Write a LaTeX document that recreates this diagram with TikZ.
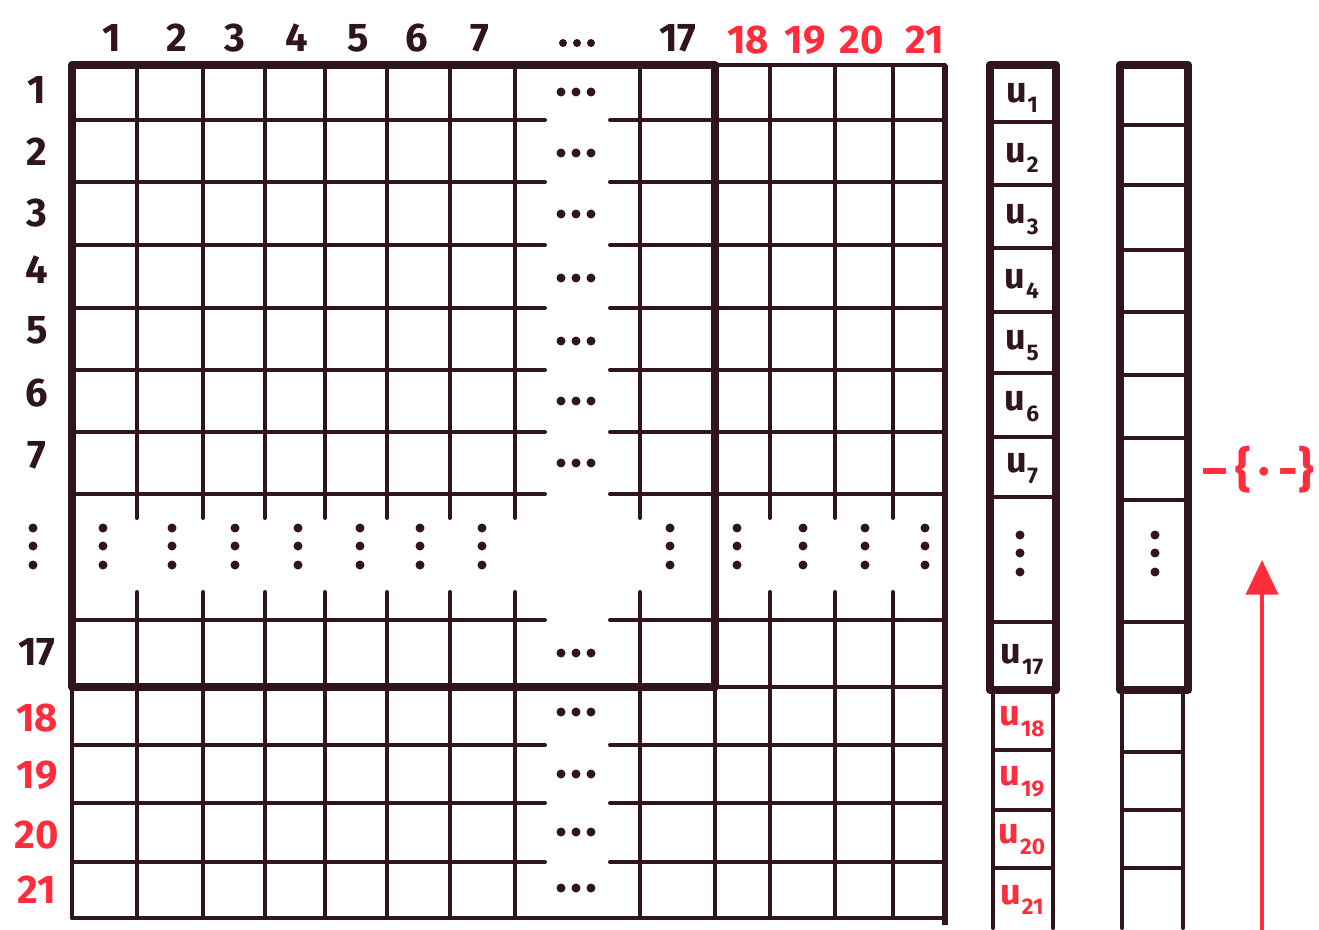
\documentclass[tikz,border=0pt]{standalone}
\usepackage{fontspec}
\setmainfont{Fira Sans}
\usetikzlibrary{arrows.meta}
\definecolor{ink}{RGB}{48,22,28}
\definecolor{redink}{RGB}{255,45,60}
\newcommand\usub[1]{u\kern0.5pt\raisebox{-0.3em}{\fontsize{17}{17}\selectfont #1}}
\begin{document}
\begin{tikzpicture}[x=0.75pt,y=-0.75pt,
  gl/.style={draw=ink,line width=3pt,line cap=round},
  bl/.style={draw=ink,line width=6pt,line cap=round,line join=round},
  lab/.style={text=ink,font=\fontsize{30}{30}\selectfont\bfseries,inner sep=0pt},
  rlab/.style={lab,text=redink},
  ulab/.style={text=ink,font=\fontsize{27}{27}\selectfont\bfseries,inner sep=0pt},
  rulab/.style={ulab,text=redink}]
\path[use as bounding box,fill=white] (0,0) rectangle (1319,930);

% main grid
\foreach \y in {120,182,245,308,370,432,494,620,745,803,862} {
  \draw[gl] (72,\y) -- (545,\y);
  \draw[gl] (610,\y) -- (945,\y);
}
\foreach \x in {137,203,265,325,387,450,515,640,770,835,893} {
  \draw[gl] (\x,65) -- (\x,518);
  \draw[gl] (\x,592) -- (\x,918);
}
\draw[gl] (72,918) -- (945,918);
\draw[gl] (715,65) -- (945,65);
\draw[gl] (715,687) -- (945,687);
\draw[gl] (72,687) -- (72,918);
\draw[gl] (715,687) -- (715,918);
\draw[draw=ink,line width=4.5pt] (945,65) -- (945,925);
\draw[bl] (72,65) rectangle (715,687);

% row labels
\foreach \t/\y in {1/90,2/152,3/213,4/270,5/330,6/393,7/455,17/652}
  \node[lab] (r\t) at (37,\y) {\t};
\foreach \t/\y in {18/718,19/775,20/835,21/890}
  \node[rlab] (r\t) at (37,\y) {\t};
% column labels
\foreach \t/\x in {1/112,2/177,3/235,4/297,5/358,6/417,7/480,17/678}
  \node[lab] (c\t) at (\x,38) {\t};
\foreach \t/\x in {18/748,19/805,20/862,21/925}
  \node[rlab] (c\t) at (\x,40) {\t};

% header dots
\foreach \x in {563,577,591} \fill[ink] (\x,43) circle (4);
% horizontal dots in the gap column
\foreach \y in {92,153,214,278,341,401,463,653,712,774,832,888}
  \foreach \x in {561,576,591} \fill[ink] (\x,\y) circle (4.5);
% vertical dots in the gap row
\foreach \x in {33,103,172,235,298,360,420,482,670,737,803,865,925}
  \foreach \y in {528,546,565} \fill[ink] (\x,\y) circle (4.5);

% vector u
\draw[gl] (993,690) -- (993,928);
\draw[gl] (1053,690) -- (1053,928);
\foreach \y in {122,185,248,312,373,437,497,622}
  \draw[gl] (990,\y) -- (1056,\y);
\foreach \y in {750,810,868}
  \draw[gl] (993,\y) -- (1053,\y);
\draw[bl] (990,65) rectangle (1056,690);
\foreach \i/\y in {1/98,2/158,3/220,4/284,5/346,6/407,7/469,17/660}
  \node[ulab] (u\i) at (1022,\y) {\usub{\i}};
\foreach \i/\y in {18/722,19/782,20/840,21/900}
  \node[rulab] (u\i) at (1022,\y) {\usub{\i}};
\foreach \y in {535,553,572} \fill[ink] (1020,\y) circle (4.5);

% second vector
\draw[gl] (1122,690) -- (1122,928);
\draw[gl] (1183,690) -- (1183,928);
\foreach \y in {125,185,250,312,375,438,500,622}
  \draw[gl] (1120,\y) -- (1188,\y);
\foreach \y in {752,810,868}
  \draw[gl] (1122,\y) -- (1183,\y);
\draw[bl] (1120,65) rectangle (1188,690);
\foreach \y in {535,553,572} \fill[ink] (1155,\y) circle (4.5);

% red annotation and arrow
\node[rlab,font=\fontsize{36}{36}\selectfont\bfseries] (note) at (1258,470) {–\,\{\,·\,-\}};
\coordinate (arrowbase) at (1262,935);
\coordinate (arrowtip) at (1262,560);
\draw[draw=redink,line width=3pt,-{Triangle[length=26pt,width=24pt]}] (arrowbase) -- (arrowtip);
\end{tikzpicture}
\end{document}
